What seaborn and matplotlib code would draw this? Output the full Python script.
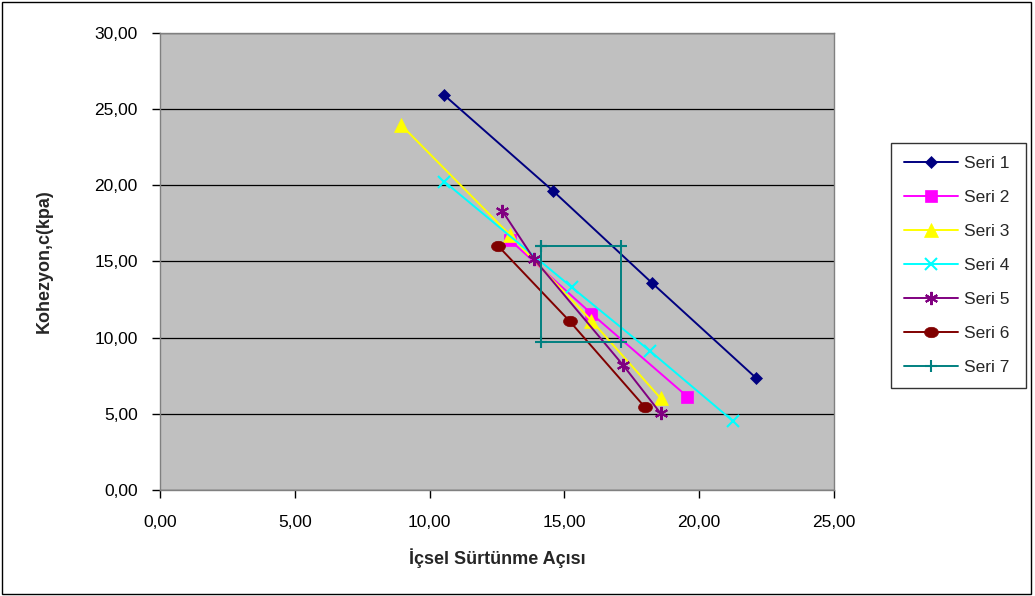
import matplotlib
matplotlib.use("Agg")
import matplotlib.pyplot as plt
import seaborn as sns
import pandas as pd
import numpy as np
from matplotlib.patches import Rectangle
from matplotlib.ticker import FuncFormatter, MultipleLocator

# Internal friction angle (x) and cohesion (y) for each series
seri1_x = [10.53, 14.58, 18.25, 22.11]
seri1_y = [25.94, 19.63, 13.59, 7.35]
seri2_x = [12.98, 16.00, 19.56]
seri2_y = [16.41, 11.58, 6.13]
seri3_x = [8.94, 12.98, 16.00, 18.57]
seri3_y = [23.97, 16.74, 11.12, 6.02]
seri4_x = [10.55, 15.27, 18.17, 21.25]
seri4_y = [20.24, 13.31, 9.13, 4.53]
seri5_x = [12.69, 13.88, 17.17, 18.57]
seri5_y = [18.34, 15.15, 8.21, 5.03]
seri6_x = [12.53, 15.20, 17.98]
seri6_y = [16.04, 11.07, 5.45]
seri7_x = [14.13, 17.10, 17.10, 14.13, 14.13]
seri7_y = [16.02, 16.02, 9.72, 9.72, 16.02]

labels = ["Seri 1", "Seri 2", "Seri 3", "Seri 4", "Seri 5", "Seri 6", "Seri 7"]
xs = [seri1_x, seri2_x, seri3_x, seri4_x, seri5_x, seri6_x, seri7_x]
ys = [seri1_y, seri2_y, seri3_y, seri4_y, seri5_y, seri6_y, seri7_y]

# flattened circle marker for the sixth series
t = np.linspace(0, 2 * np.pi, 40)
ellipse = list(zip(np.cos(t), 0.75 * np.sin(t)))

colors = ["#000080", "#FF00FF", "#FFFF00", "#00FFFF", "#800080", "#800000", "#008080"]
markers = ["D", "s", "^", "x", (6, 2, 0), ellipse, "+"]
msizes = [6.5, 9, 10, 9, 9.5, 10, 9]
thin_markers = {3, 4, 6}

sns.set_theme(style="white")
plt.rcParams["font.family"] = ["Liberation Sans", "DejaVu Sans"]

fig = plt.figure(figsize=(10.35, 5.96), dpi=100)
fig.patch.set_facecolor("white")
fig.add_artist(Rectangle((0.002, 0.003), 0.994, 0.993, transform=fig.transFigure,
                         fill=False, edgecolor="black", linewidth=1.0))

ax = fig.add_axes([0.1546, 0.1779, 0.6512, 0.7667])
ax.set_facecolor("#C0C0C0")

for i, (x, y, lab, c, m, ms) in enumerate(zip(xs, ys, labels, colors, markers, msizes)):
    df = pd.DataFrame({"x": x, "y": y})
    sns.lineplot(data=df, x="x", y="y", sort=False, estimator=None, ax=ax,
                 color=c, marker=m, markersize=ms, linewidth=1.4,
                 markeredgecolor=c, markeredgewidth=1.5 if i in thin_markers else 0.5,
                 label=lab)

ax.set_xlim(0, 25)
ax.set_ylim(0, 30)
ax.xaxis.set_major_locator(MultipleLocator(5))
ax.yaxis.set_major_locator(MultipleLocator(5))
fmt = FuncFormatter(lambda v, p: f"{v:.2f}".replace(".", ","))
ax.xaxis.set_major_formatter(fmt)
ax.yaxis.set_major_formatter(fmt)

ax.yaxis.grid(True, color="black", linewidth=0.9)
ax.xaxis.grid(False)
ax.set_axisbelow(True)
for s in ax.spines.values():
    s.set_color("#808080")
    s.set_linewidth(1.0)

ax.tick_params(axis="both", which="major", direction="out", length=6, width=1,
               color="black", labelsize=12.5, pad=10, labelcolor="black")
ax.tick_params(axis="x", bottom=True, pad=12)
ax.tick_params(axis="y", left=True)

ax.set_xlabel("İçsel Sürtünme Açısı", fontsize=13, fontweight="bold")
ax.set_ylabel("Kohezyon,c(kpa)", fontsize=13, fontweight="bold")
ax.xaxis.set_label_coords(0.5, -0.128)
ax.yaxis.set_label_coords(-0.159, 0.5)

leg = ax.legend(loc="upper left", bbox_to_anchor=(1.0846, 0.0, 0.2003, 0.7593),
                mode="expand", frameon=True, fancybox=False, edgecolor="black",
                fontsize=12.5, handlelength=3.1, labelspacing=1.08, borderpad=0.75,
                handletextpad=0.35, borderaxespad=0.0)
leg.get_frame().set_linewidth(1.0)

fig.savefig("out.png", dpi=100)
